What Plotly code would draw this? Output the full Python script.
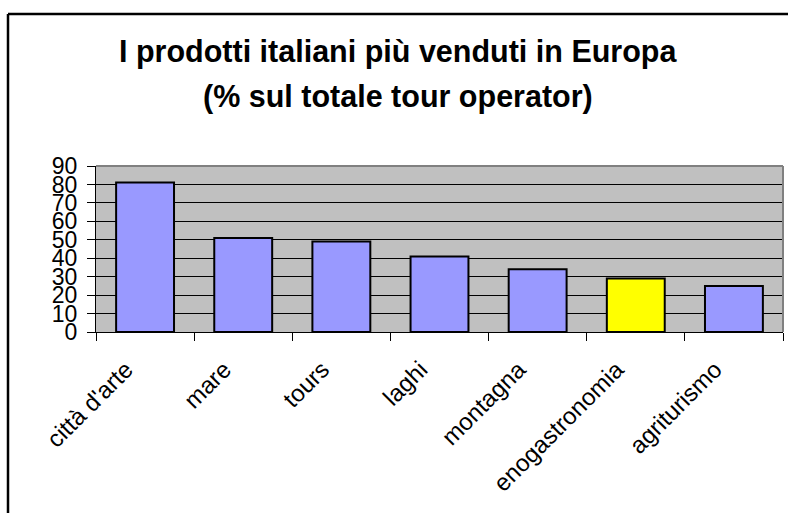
import plotly.graph_objects as go

categories = ["città d'arte", "mare", "tours", "laghi", "montagna", "enogastronomia", "agriturismo"]
values = [81, 51, 49, 41, 34, 29, 25]
bar_colors = ["#9999FF", "#9999FF", "#9999FF", "#9999FF", "#9999FF", "#FFFF00", "#9999FF"]
y_ticks = [0, 10, 20, 30, 40, 50, 60, 70, 80, 90]
title_line1 = "I prodotti italiani più venduti in Europa"
title_line2 = "(% sul totale tour operator)"

W, H = 788, 513
ml, mr, mt, mb = 96, 5, 166, 181

fig = go.Figure(go.Bar(
    x=categories, y=values,
    marker=dict(color=bar_colors, line=dict(color="black", width=2)),
    width=0.59,
    hoverinfo="skip",
))

ph = H - mt - mb
pw = W - ml - mr
def py(ypix):
    return (H - mb - ypix) / ph
def px(xpix):
    return (xpix - ml) / pw

fig.update_layout(
    width=W, height=H,
    margin=dict(l=ml, r=mr, t=mt, b=mb, autoexpand=False),
    paper_bgcolor="white",
    plot_bgcolor="#C0C0C0",
    showlegend=False,
    font=dict(family="Liberation Sans, Arial, sans-serif", color="black"),
    xaxis=dict(
        showline=True, linecolor="black", linewidth=1,
        ticks="outside", ticklen=8, tickcolor="black",
        tickson="boundaries",
        tickangle=-45, tickfont=dict(size=24),
        ticklabelshift=-19, ticklabelstandoff=13,
        showgrid=False,
    ),
    yaxis=dict(
        range=[0, 90], tickvals=y_ticks,
        showline=True, linecolor="black", linewidth=1,
        ticks="outside", ticklen=8, tickcolor="black",
        tickfont=dict(size=23),
        showgrid=True, gridcolor="black", gridwidth=1,
        zeroline=False,
        ticklabelstandoff=5,
    ),
    annotations=[
        dict(text="<b>" + title_line1 + "</b>", x=px(398), y=py(52), xref="paper", yref="paper",
             xanchor="center", yanchor="middle", showarrow=False, font=dict(size=30.5)),
        dict(text="<b>" + title_line2 + "</b>", x=px(398), y=py(96), xref="paper", yref="paper",
             xanchor="center", yanchor="middle", showarrow=False, font=dict(size=30.5)),
    ],
    shapes=[
        # outer chart border (left and top)
        dict(type="line", xref="paper", yref="paper", x0=px(8), x1=px(8), y0=py(14), y1=py(520),
             line=dict(color="black", width=2.5)),
        dict(type="line", xref="paper", yref="paper", x0=px(8), x1=px(800), y0=py(14), y1=py(14),
             line=dict(color="black", width=2.5)),
        # plot area top and right borders (gray)
        dict(type="line", xref="paper", yref="paper", x0=0, x1=1, y0=1, y1=1,
             line=dict(color="#808080", width=2)),
        dict(type="line", xref="paper", yref="paper", x0=1, x1=1, y0=0, y1=1,
             line=dict(color="#808080", width=2)),
    ],
)

fig.write_html(
    "out.html",
    config={"displayModeBar": False},
    post_script="document.body.style.margin='0';document.body.style.overflow='hidden';",
)
